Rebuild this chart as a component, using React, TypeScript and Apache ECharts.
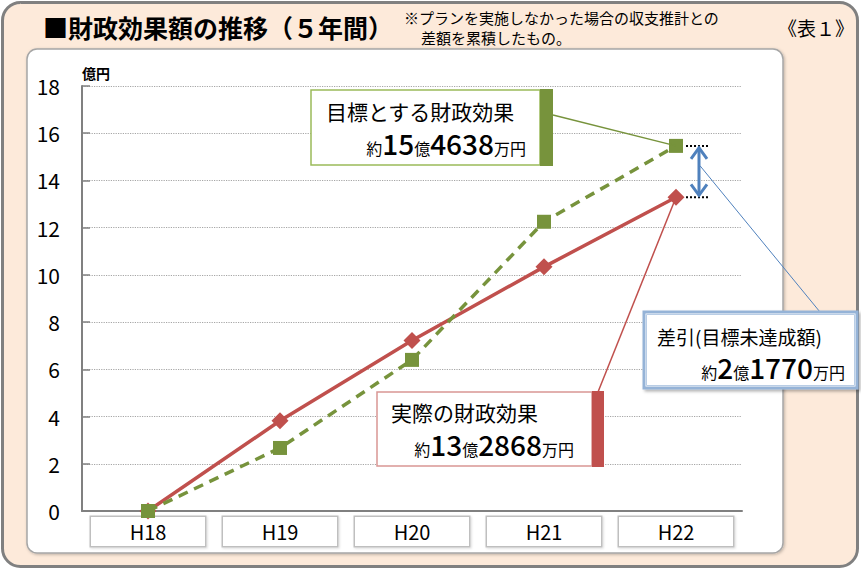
import React, { useEffect, useRef } from "react";
import * as echarts from "echarts";

const categories = ["H18", "H19", "H20", "H21", "H22"];
const targetValues = [0, 2.67, 6.4, 12.25, 15.4638];
const actualValues = [0, 3.82, 7.22, 10.34, 13.2868];
const yMin = 0;
const yMax = 18;
const yInterval = 2;

const FONT = "'Noto Sans CJK JP', 'Noto Sans', sans-serif";
const GREEN = "#77933C";
const RED = "#C0504D";
const BLUE = "#4F81BD";

export default function App() {
  const ref = useRef<HTMLDivElement>(null);

  useEffect(() => {
    if (!ref.current) return;
    const chart = echarts.init(ref.current, null, { renderer: "svg" });

    const option: any = {
      animation: false,
      textStyle: { fontFamily: FONT },
      grid: { left: 82, top: 86, width: 660, height: 425, containLabel: false },
      xAxis: {
        type: "category",
        data: categories,
        boundaryGap: true,
        axisLine: { lineStyle: { color: "#808080", width: 2 } },
        axisTick: { inside: true, length: 8, lineStyle: { color: "#808080", width: 1.5 } },
        axisLabel: {
          margin: 6,
          formatter: (v: string) => `{b|${v}}`,
          rich: {
            b: {
              width: 114,
              height: 29,
              lineHeight: 29,
              align: "center",
              fontSize: 20,
              fontWeight: "normal",
              color: "#000",
              fontFamily: FONT,
              backgroundColor: "#fff",
              borderColor: "#bfbfbf",
              borderWidth: 1.5,
              shadowColor: "rgba(0,0,0,0.15)",
              shadowBlur: 2,
              shadowOffsetX: 1,
              shadowOffsetY: 1,
            },
          },
        },
      },
      yAxis: {
        type: "value",
        min: yMin,
        max: yMax,
        interval: yInterval,
        name: "億円",
        nameGap: 6,
        nameTextStyle: { fontSize: 14, fontWeight: "bold", color: "#000", align: "left", fontFamily: FONT },
        axisLine: { show: true, lineStyle: { color: "#808080", width: 2 } },
        axisTick: { show: true, inside: true, length: 8, lineStyle: { color: "#808080", width: 1.5 } },
        axisLabel: { fontSize: 21, color: "#000", margin: 22, fontFamily: FONT },
        splitLine: { show: true, lineStyle: { type: "dotted", color: "#a6a6a6", width: 1.2 } },
      },
      series: [
        {
          name: "実際の財政効果",
          type: "line",
          data: actualValues,
          symbol: "diamond",
          symbolSize: 17,
          itemStyle: { color: RED },
          lineStyle: { color: RED, width: 3.5 },
          z: 3,
        },
        {
          name: "目標とする財政効果",
          type: "line",
          data: targetValues,
          symbol: "rect",
          symbolSize: 14,
          itemStyle: { color: GREEN },
          lineStyle: { color: GREEN, width: 3.5, type: [10, 7] },
          z: 4,
        },
      ],
    };
    chart.setOption(option);

    const last = categories.length - 1;
    const pT = chart.convertToPixel({ seriesIndex: 1 }, [last, targetValues[last]]) as number[];
    const pA = chart.convertToPixel({ seriesIndex: 0 }, [last, actualValues[last]]) as number[];
    const ax = pT[0] + 23;

    const amountText = (oku: string, man: string) => `{s|約}{b|${oku}}{s|億}{b|${man}}{s|万円}`;
    const amountRich = {
      s: { fontSize: 16, lineHeight: 24, fontFamily: FONT, color: "#000", verticalAlign: "bottom", padding: [0, 0, 1, 0] },
      b: { fontSize: 28, lineHeight: 24, fontFamily: FONT, fontWeight: 500, color: "#000", verticalAlign: "bottom" },
    };
    const diff = targetValues[last] - actualValues[last];
    const diffOku = Math.floor(diff + 1e-9);
    const diffMan = Math.round((diff - diffOku) * 10000);

    const txt = (x: number, y: number, text: string, size: number, extra: any = {}) => ({
      type: "text",
      x,
      y,
      z: 100,
      style: {
        text,
        fontSize: size,
        lineHeight: size,
        fontFamily: FONT,
        fill: "#000",
        textVerticalAlign: "middle",
        verticalAlign: "middle",
        ...extra,
      },
    });

    const graphic: any[] = [
      {
        type: "rect",
        z: -20,
        shape: { x: 2.5, y: 2.5, width: 855, height: 564, r: 18 },
        style: { fill: "#FDEADA", stroke: "#808080", lineWidth: 3 },
      },
      {
        type: "rect",
        z: -19,
        shape: { x: 27, y: 49, width: 756, height: 504, r: 10 },
        style: {
          fill: "#ffffff",
          stroke: "#a6a6a6",
          lineWidth: 1.5,
          shadowColor: "rgba(0,0,0,0.25)",
          shadowBlur: 3,
          shadowOffsetX: 1,
          shadowOffsetY: 1,
        },
      },
      txt(43, 27, "■財政効果額の推移（５年間）", 25, { fontWeight: "bold" }),
      txt(404, 17, "※プランを実施しなかった場合の収支推計との", 15),
      txt(421, 37, "差額を累積したもの。", 15),
      txt(778, 27, "《表１》", 19),

      // green annotation
      {
        type: "line",
        z: 90,
        shape: { x1: 553, y1: 115, x2: pT[0], y2: pT[1] },
        style: { stroke: GREEN, lineWidth: 1.5 },
      },
      {
        type: "rect",
        z: 95,
        shape: { x: 311, y: 90, width: 229, height: 75 },
        style: { fill: "#fff", stroke: "#9BBB59", lineWidth: 1.5 },
      },
      { type: "rect", z: 96, shape: { x: 540, y: 89, width: 13, height: 77 }, style: { fill: GREEN } },
      txt(326, 111, "目標とする財政効果", 21),
      txt(526, 145, amountText("15", "4638"), 16, { rich: amountRich, textAlign: "right", align: "right", lineHeight: 24 }),

      // red annotation
      {
        type: "line",
        z: 90,
        shape: { x1: 598, y1: 392, x2: pA[0], y2: pA[1] },
        style: { stroke: RED, lineWidth: 1.5 },
      },
      {
        type: "rect",
        z: 95,
        shape: { x: 377, y: 392, width: 215, height: 74 },
        style: { fill: "#fff", stroke: "#D99694", lineWidth: 1.5 },
      },
      { type: "rect", z: 96, shape: { x: 592, y: 391, width: 12, height: 76 }, style: { fill: RED } },
      txt(391, 412, "実際の財政効果", 21),
      txt(574, 446, amountText("13", "2868"), 16, { rich: amountRich, textAlign: "right", align: "right", lineHeight: 24 }),

      // difference markers
      {
        type: "line",
        z: 90,
        shape: { x1: pT[0] + 10, y1: pT[1], x2: pT[0] + 34, y2: pT[1] },
        style: { stroke: "#000", lineWidth: 2, lineDash: [2, 2] },
      },
      {
        type: "line",
        z: 90,
        shape: { x1: pA[0] + 10, y1: pA[1], x2: pA[0] + 34, y2: pA[1] },
        style: { stroke: "#000", lineWidth: 2, lineDash: [2, 2] },
      },
      {
        type: "line",
        z: 91,
        shape: { x1: ax, y1: pT[1] + 2, x2: ax, y2: pA[1] - 2 },
        style: { stroke: BLUE, lineWidth: 3 },
      },
      {
        type: "polyline",
        z: 91,
        shape: { points: [[ax - 8, pT[1] + 13], [ax, pT[1] + 2], [ax + 8, pT[1] + 13]] },
        style: { stroke: BLUE, lineWidth: 3, fill: null },
      },
      {
        type: "polyline",
        z: 91,
        shape: { points: [[ax - 8, pA[1] - 13], [ax, pA[1] - 2], [ax + 8, pA[1] - 13]] },
        style: { stroke: BLUE, lineWidth: 3, fill: null },
      },
      {
        type: "line",
        z: 90,
        shape: { x1: ax + 1, y1: (pT[1] * 3 + pA[1]) / 4 + 7, x2: 820, y2: 312 },
        style: { stroke: BLUE, lineWidth: 1 },
      },
      {
        type: "rect",
        z: 95,
        shape: { x: 644, y: 312, width: 213, height: 76 },
        style: {
          fill: "#fff",
          stroke: "#95B3D7",
          lineWidth: 3,
          shadowColor: "rgba(0,0,0,0.3)",
          shadowBlur: 3,
          shadowOffsetX: 2,
          shadowOffsetY: 2,
        },
      },
      {
        type: "rect",
        z: 96,
        shape: { x: 646.5, y: 314.5, width: 208, height: 71 },
        style: { fill: null, stroke: "#B9CDE5", lineWidth: 1 },
      },
      txt(657, 336, "差引(目標未達成額)", 19),
      txt(845, 369, amountText(String(diffOku), String(diffMan)), 16, {
        rich: amountRich,
        textAlign: "right",
        align: "right",
        lineHeight: 24,
      }),
    ];

    chart.setOption({ graphic });

    return () => chart.dispose();
  }, []);

  return (
    <div
      ref={ref}
      style={{ position: "fixed", left: 0, top: 0, width: 861, height: 570, background: "#fff" }}
    />
  );
}
